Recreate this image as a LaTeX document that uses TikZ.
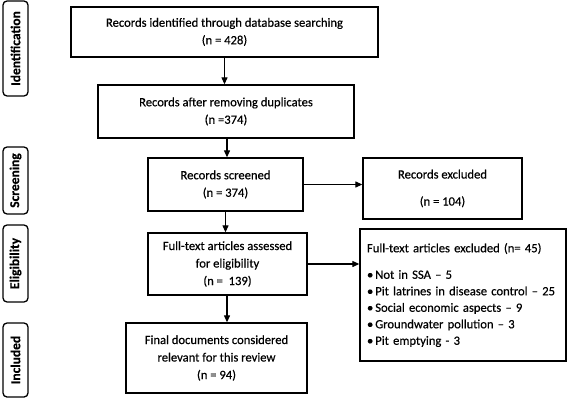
\documentclass[tikz,border=0pt]{standalone}
\usepackage{fontspec}
\setmainfont{Carlito}[FakeBold=0.4]
\newfontfamily\lblfont{Carlito}[BoldFeatures={FakeBold=0.3}]
\usetikzlibrary{arrows.meta,calc}
\tikzset{
  box/.style={draw=black, line width=1.3pt, align=center, inner sep=2pt,
    font=\fontsize{12.6}{17.5}\selectfont},
  phase/.style={draw=black, line width=1.3pt, rounded corners=4pt,
    minimum width=25pt, inner sep=0pt},
  phasetext/.style={rotate=90, font=\lblfont\fontsize{13.5}{15}\selectfont\bfseries},
  arr/.style={draw=black, line width=1.1pt, -{Triangle[length=7pt,width=6pt]}},
}
\begin{document}
\begin{tikzpicture}[x=1pt,y=-1pt]
\useasboundingbox (0,0) rectangle (567,401);
% phase labels
\node[phase, minimum height=95pt] (pid) at (15.5,48.5) {};
\node[phasetext] (tid) at (pid.center) {Identification};
\node[phase, minimum height=67pt] (psc) at (15.5,180.5) {};
\node[phasetext] (tsc) at (psc.center) {Screening};
\node[phase, minimum height=77pt] (pel) at (15.5,263.5) {};
\node[phasetext] (tel) at (pel.center) {Eligibility};
\node[phase, minimum height=74pt] (pin) at (15.5,360) {};
\node[phasetext] (tin) at (pin.center) {Included};
% boxes
\node[box, minimum width=307pt, minimum height=50pt] (b1) at (224.5,32)
  {Records identified through database searching\\(n = 428)};
\node[box, minimum width=256pt, minimum height=53pt] (b2) at (226,111.5)
  {Records after removing duplicates\\(n =374)};
\node[box, minimum width=155pt, minimum height=53pt] (b3) at (225.5,184.5)
  {Records screened\\(n = 374)};
\node[box, minimum width=159pt, minimum height=61pt, font=\fontsize{12.6}{27}\selectfont] (e1) at (442.5,188.5)
  {Records excluded\\(n = 104)};
\node[box, minimum width=159pt, minimum height=62pt] (b4) at (227.5,264)
  {Full-text articles assessed\\for eligibility\\(n =\ \ 139)};
\node[box, minimum width=206pt, minimum height=132pt, text width=192pt, align=left,
  font=\fontsize{12.6}{16.5}\selectfont] (e2) at (463,295)
  {Full-text articles excluded (n= 45)\\[10pt]
   \textbullet\hspace{2pt}Not in SSA – 5\\
   \textbullet\hspace{2pt}Pit latrines in disease control – 25\\
   \textbullet\hspace{2pt}Social economic aspects – 9\\
   \textbullet\hspace{2pt}Groundwater pollution – 3\\
   \textbullet\hspace{2pt}Pit emptying - 3};
\node[box, minimum width=181pt, minimum height=70pt] (b5) at (216.5,358)
  {Final documents considered\\relevant for this review\\(n = 94)};
% connectors
\draw[arr] (b1.south) -- (b1.south |- b2.north);
\draw[arr] ($(b2.south)+(1,0)$) -- ($(b2.south |- b3.north)+(1,0)$);
\draw[arr] (b3.south) -- (b3.south |- b4.north);
\draw[arr] ($(b4.south)+(-0.5,0)$) -- ($(b4.south |- b5.north)+(-0.5,0)$);
\draw[arr] (b3.east) -- (b3.east -| e1.west);
\draw[arr] (b4.east) -- (b4.east -| e2.west);
\end{tikzpicture}
\end{document}
